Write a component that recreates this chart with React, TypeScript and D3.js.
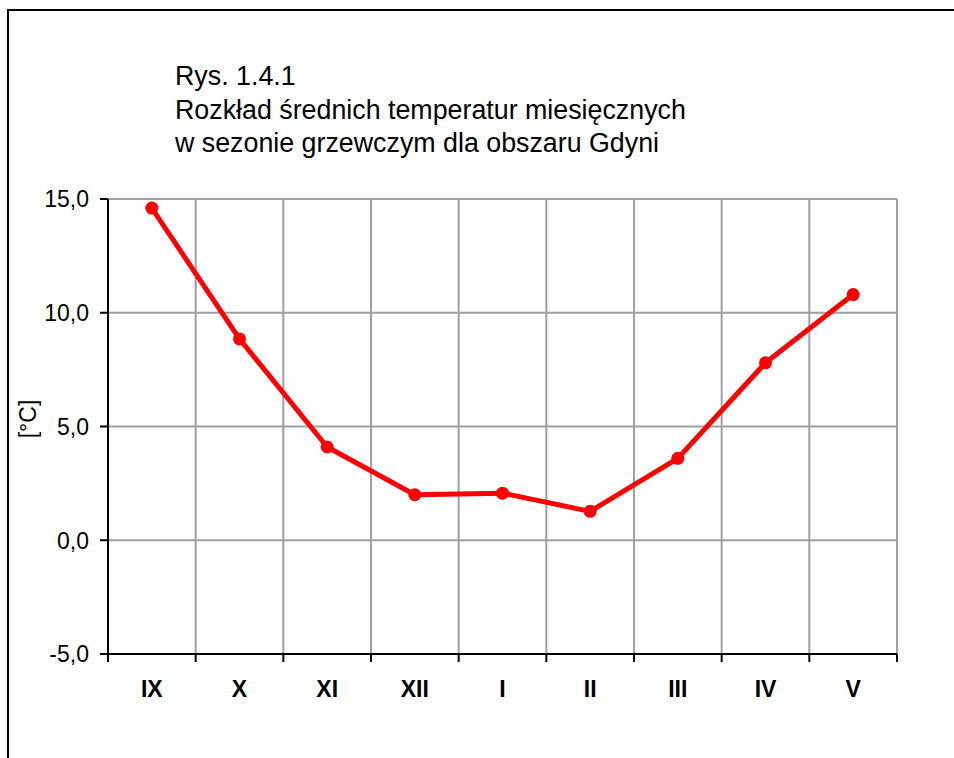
import React from 'react';
import * as d3 from 'd3';

const months = ['IX', 'X', 'XI', 'XII', 'I', 'II', 'III', 'IV', 'V'];
const temps = [14.6, 8.85, 4.1, 2.0, 2.07, 1.27, 3.6, 7.8, 10.8];
const yTicks = [-5, 0, 5, 10, 15];
const titleLines = [
  'Rys. 1.4.1',
  'Rozkład średnich temperatur miesięcznych',
  'w sezonie grzewczym dla obszaru Gdyni',
];

const width = 954;
const height = 758;
const plot = { left: 108, right: 897, top: 199, bottom: 654 };
const font = '"Liberation Sans", Arial, sans-serif';

// comma decimal, plain hyphen for negatives
const fmt = (v: number) => v.toFixed(1).replace('.', ',');

export default function App() {
  const x = d3.scaleBand<string>().domain(months).range([plot.left, plot.right]);
  const y = d3.scaleLinear().domain([-5, 15]).range([plot.bottom, plot.top]);

  const line = d3
    .line<number>()
    .x((_, i) => x(months[i])! + x.bandwidth() / 2)
    .y(d => y(d));

  const bounds = months.map(m => x(m)!).concat([plot.right]);

  return (
    <svg
      width={width}
      height={height}
      style={{ position: 'absolute', left: 0, top: 0, background: '#fff' }}
      fontFamily={font}
    >
      <rect x={8} y={10} width={width + 20} height={height + 20} fill="#fff" stroke="#000" strokeWidth={2} />

      {titleLines.map((t, i) => (
        <text key={i} x={175} y={85 + i * 33.5} fontSize={26.8} fill="#000">
          {t}
        </text>
      ))}

      {/* grid */}
      {yTicks.map(t => (
        <line key={'gy' + t} x1={plot.left} x2={plot.right} y1={y(t)} y2={y(t)} stroke="#a0a0a0" strokeWidth={2} />
      ))}
      {bounds.map((b, i) => (
        <line key={'gx' + i} x1={b} x2={b} y1={plot.top} y2={plot.bottom} stroke="#a0a0a0" strokeWidth={2} />
      ))}

      {/* axes */}
      <line x1={plot.left} x2={plot.left} y1={plot.top} y2={plot.bottom} stroke="#000" strokeWidth={2} />
      <line x1={plot.left} x2={plot.right} y1={plot.bottom} y2={plot.bottom} stroke="#000" strokeWidth={2} />
      {yTicks.map(t => (
        <g key={'yt' + t}>
          <line x1={plot.left - 8} x2={plot.left} y1={y(t)} y2={y(t)} stroke="#000" strokeWidth={2} />
          <text x={89} y={y(t)} dy="0.36em" textAnchor="end" fontSize={23} fill="#000">
            {fmt(t)}
          </text>
        </g>
      ))}
      {bounds.map((b, i) => (
        <line key={'xt' + i} x1={b} x2={b} y1={plot.bottom} y2={plot.bottom + 8} stroke="#000" strokeWidth={2} />
      ))}
      {months.map(m => (
        <text
          key={'xl' + m}
          x={x(m)! + x.bandwidth() / 2}
          y={697}
          textAnchor="middle"
          fontSize={23}
          fontWeight="bold"
          fill="#000"
        >
          {m}
        </text>
      ))}

      <text transform="translate(36,419) rotate(-90)" textAnchor="middle" fontSize={23} fill="#000">
        [°C]
      </text>

      {/* series */}
      <path d={line(temps)!} fill="none" stroke="#ff0000" strokeWidth={5} strokeLinejoin="round" />
      {temps.map((v, i) => (
        <circle key={'p' + i} cx={x(months[i])! + x.bandwidth() / 2} cy={y(v)} r={6.5} fill="#ff0000" />
      ))}
    </svg>
  );
}
